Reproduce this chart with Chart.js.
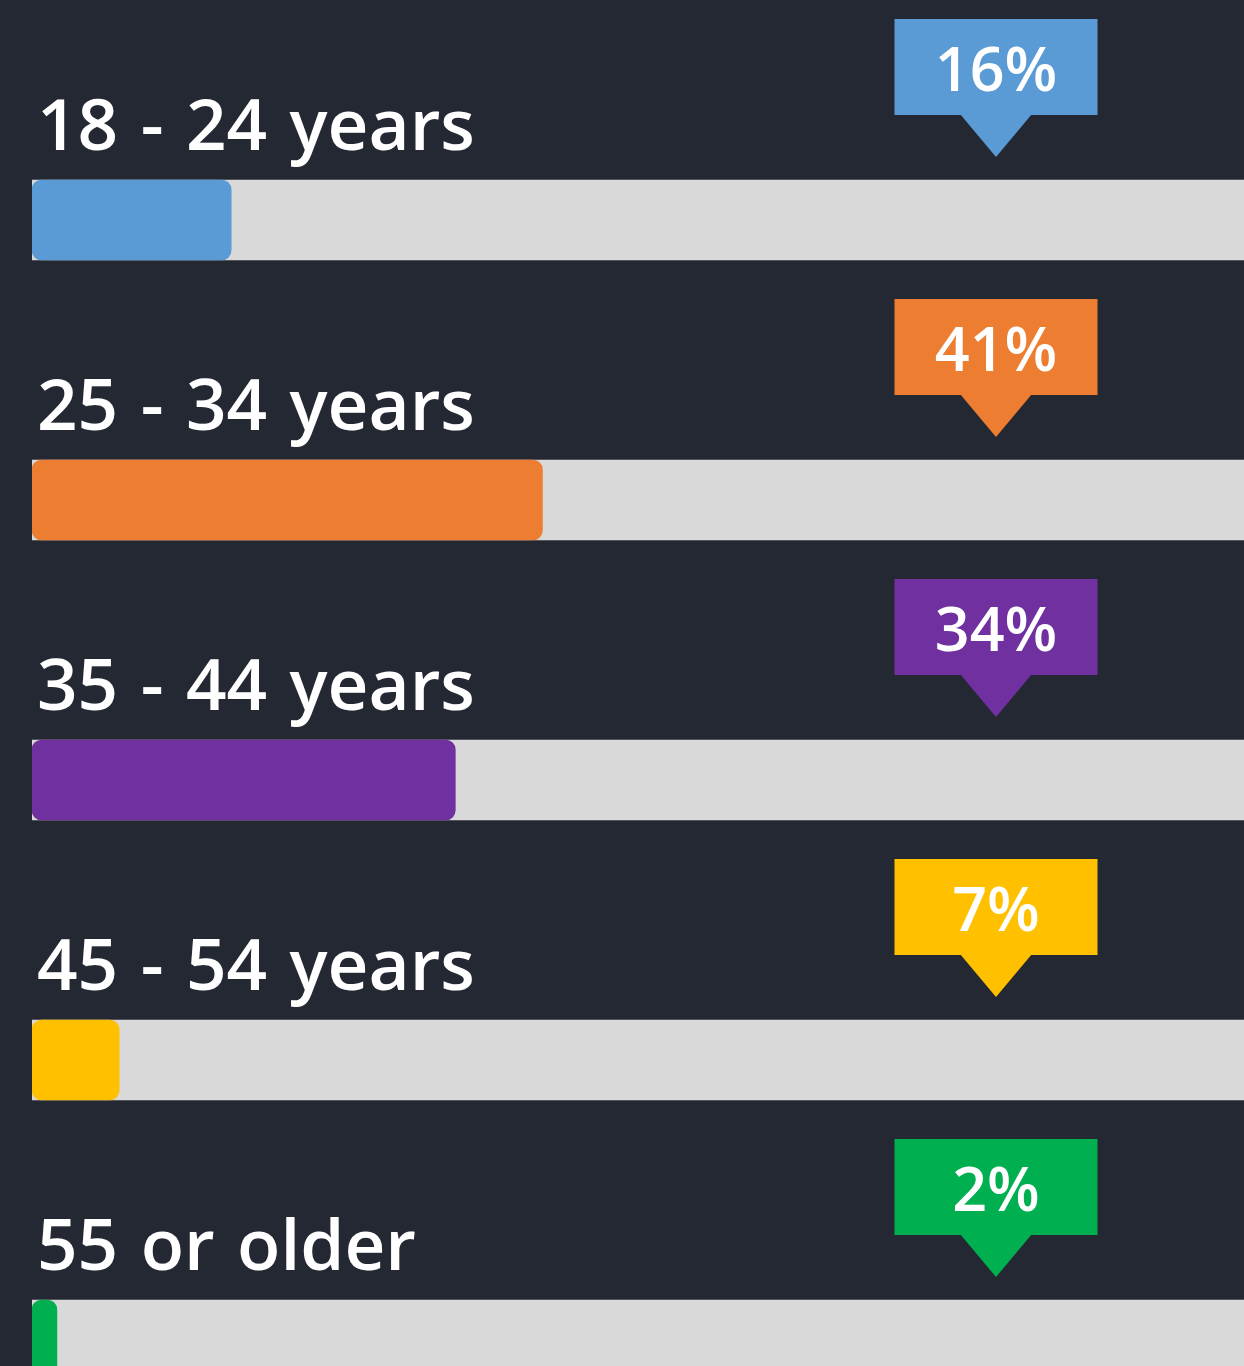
<!DOCTYPE html>
<html>
<head>
<meta charset="utf-8">
<script src="https://cdn.jsdelivr.net/npm/chart.js@4"></script>
<style>
    html, body { margin: 0; padding: 0; background: #242832; overflow: hidden; }
    #wrap { width: 1290px; height: 1480px; }
</style>
</head>
<body>
<div id="wrap"><canvas id="chartEdades"></canvas></div>
<script>
// datos
const categorias = ['18 - 24 years', '25 - 34 years', '35 - 44 years', '45 - 54 years', '55 or older'];
const porcentajes = [16, 41, 34, 7, 2];
const pista = [100, 100, 100, 100, 100];
const colores = ['#5B9BD5', '#ED7D31', '#7030A0', '#FFC000', '#00B050'];

const fuente = '"Open Sans", "DejaVu Sans", sans-serif';

// etiquetas encima de cada barra y globos con el porcentaje
const etiquetasPlugin = {
    id: 'etiquetas',
    afterDatasetsDraw(chart) {
        const c = chart.ctx;
        const meta = chart.getDatasetMeta(0);
        c.save();
        meta.data.forEach(function (bar, i) {
            const top = bar.y - bar.height / 2;

            // texto de la categoria
            c.fillStyle = '#ffffff';
            c.font = '600 71px ' + fuente;
            c.textAlign = 'left';
            c.textBaseline = 'alphabetic';
            c.wordSpacing = '4px';
            c.fillText(categorias[i], 37, top - 30);
            c.wordSpacing = '0px';

            // globo
            const cx = 996;
            const w = 203, h = 96;
            const boxBottom = top - 65;
            const boxTop = boxBottom - h;
            c.fillStyle = colores[i];
            c.fillRect(cx - w / 2, boxTop, w, h);
            c.beginPath();
            c.moveTo(cx - 36, boxBottom - 1);
            c.lineTo(cx + 36, boxBottom - 1);
            c.lineTo(cx, boxBottom + 42);
            c.closePath();
            c.fill();

            c.fillStyle = '#ffffff';
            c.font = '600 61px ' + fuente;
            c.textAlign = 'center';
            c.fillText(porcentajes[i] + '%', cx, boxTop + 72);
        });
        c.restore();
    }
};

new Chart(document.getElementById('chartEdades'), {
    type: 'bar',
    data: {
        labels: categorias,
        datasets: [{
            label: 'Porcentaje',
            data: porcentajes,
            backgroundColor: colores,
            borderRadius: 10,
            borderSkipped: false,
            barThickness: 80,
            order: 0
        }, {
            label: 'Pista',
            data: pista,
            backgroundColor: '#D9D9D9',
            borderRadius: 0,
            barThickness: 80,
            order: 1
        }]
    },
    options: {
        indexAxis: 'y',
        responsive: true,
        maintainAspectRatio: false,
        animation: false,
        layout: {
            padding: { left: 32, right: 13, top: 80, bottom: 0 }
        },
        datasets: {
            bar: { grouped: false }
        },
        plugins: {
            legend: { display: false },
            tooltip: { enabled: false }
        },
        scales: {
            x: { display: false, min: 0, max: 100 },
            y: { display: false }
        }
    },
    plugins: [etiquetasPlugin]
});
</script>
</body>
</html>
